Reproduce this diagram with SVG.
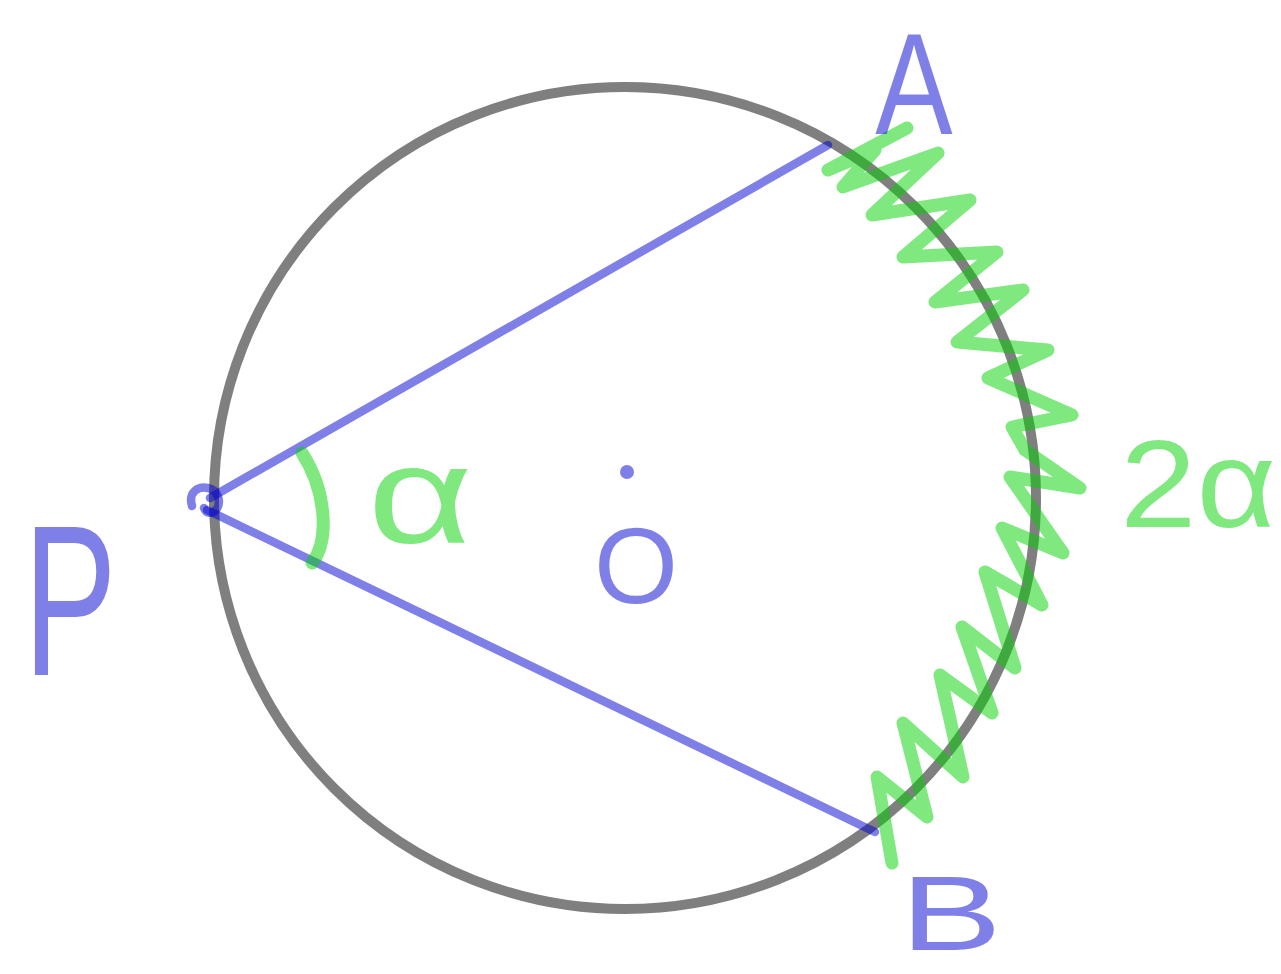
<svg xmlns="http://www.w3.org/2000/svg" width="1281" height="974" viewBox="0 0 1281 974">
<style>
.gray{fill:none;stroke:#000;stroke-opacity:.5;stroke-width:10}
.blue{fill:none;stroke:#0000d2;stroke-opacity:.5;stroke-width:8.5;stroke-linecap:round;stroke-linejoin:round}
.green{fill:none;stroke:#00d200;stroke-opacity:.5;stroke-width:13;stroke-linecap:round;stroke-linejoin:round}
.bt{fill:#0000d2;fill-opacity:.5;font-family:"Liberation Sans",Arial,sans-serif}
.gt{fill:#00d200;fill-opacity:.5;font-family:"Liberation Sans",Arial,sans-serif}
</style>
<rect width="1281" height="974" fill="#fff"/>
<g id="circle"><circle class="gray" cx="625" cy="498" r="411"/></g>
<g id="connectors">
<line class="blue" x1="210" y1="498" x2="828" y2="145"/>
<line class="blue" x1="207" y1="510" x2="875" y2="832"/>
<path class="green" d="M302,453 C326,490 330,540 312,563"/>
<polyline class="green" points="907,128 828,170 875,150 843,187 938,153 872,215 970,200 903,257 997,252 935,302 1023,290 957,342 1048,350 988,378 1072,415 1012,427 1025,450 1080,488 1010,477 1063,553 1002,528 1042,605 985,572 1015,668 962,627 992,713 940,675 963,777 903,723 927,817 877,777 892,863"/>
</g>
<g id="P">
<path class="blue" d="M192,506 C188,492 198,486 208,488 C218,490 222,502 216,510 C212,514 206,514 204,508" stroke-width="14"/>
<text class="bt" transform="translate(70,675) scale(0.65,1)" font-size="215" text-anchor="middle">P</text>
</g>
<g id="A"><text class="bt" transform="translate(914,134) scale(0.8,1)" font-size="145" text-anchor="middle">A</text></g>
<g id="B"><text class="bt" transform="translate(951,950) scale(1.45,1)" font-size="105" text-anchor="middle">B</text></g>
<g id="O">
<circle cx="627" cy="472" r="7" fill="#0000d2" fill-opacity=".5"/>
<text class="bt" x="636" y="603" font-size="108" text-anchor="middle">O</text>
</g>
<g id="alpha"><text class="gt" transform="translate(420,543) scale(1.3,1)" font-size="140" text-anchor="middle">α</text></g>
<g id="twoalpha"><text class="gt" transform="translate(1198,527) scale(1.1,1)" font-size="125" text-anchor="middle">2α</text></g>
</svg>
